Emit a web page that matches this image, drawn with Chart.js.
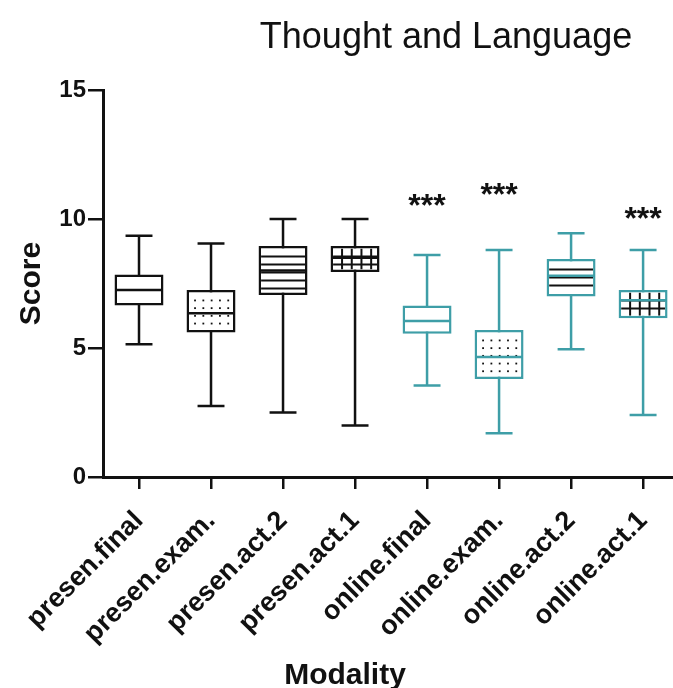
<!DOCTYPE html>
<html>
<head>
<meta charset="utf-8">
<script src="https://cdn.jsdelivr.net/npm/chart.js@4.4.1/dist/chart.umd.min.js"></script>
<style>
  html, body { margin: 0; padding: 0; background: #fff; overflow: hidden; }
  canvas { display: block; }
</style>
</head>
<body>
<canvas id="chart" width="682" height="688"></canvas>
<script>
// Box plot data
var categories = ['presen.final', 'presen.exam.', 'presen.act.2', 'presen.act.1',
                  'online.final', 'online.exam.', 'online.act.2', 'online.act.1'];
var mins    = [5.15, 2.75, 2.5,  2.0,  3.55, 1.7,  4.95, 2.4];
var q1s     = [6.65, 5.6,  7.05, 7.95, 5.55, 3.8,  7.0,  6.15];
var medians = [7.25, 6.35, 8.0,  8.5,  6.05, 4.65, 7.8,  6.85];
var q3s     = [7.85, 7.25, 8.95, 8.95, 6.65, 5.7,  8.45, 7.25];
var maxs    = [9.35, 9.05, 10.0, 10.0, 8.6,  8.8,  9.45, 8.8];
var fills   = ['plain', 'dots', 'hlines', 'grid', 'plain', 'dots', 'hlines', 'grid'];
var stars   = [null, null, null, null, 10.7, 11.1, null, 10.2];
var yTicks  = [0, 5, 10, 15];

var BLACK = '#111';
var TEAL = '#3e9ea7';
var FONT = '"Liberation Sans", Arial, Helvetica, sans-serif';
Chart.defaults.font.family = FONT;

var boxColors = categories.map(function (c) { return c.indexOf('online') === 0 ? TEAL : BLACK; });

function drawFill(ctx, kind, l, t, r, b) {
  ctx.fillStyle = BLACK;
  ctx.strokeStyle = BLACK;
  ctx.lineWidth = 2;
  var x, y;
  if (kind === 'dots') {
    for (y = t + 8; y < b - 2; y += 7.7) {
      for (x = l + 6; x < r - 2; x += 8.3) {
        ctx.fillRect(x - 0.9, y - 0.9, 1.8, 1.8);
      }
    }
  } else if (kind === 'hlines' || kind === 'grid') {
    ctx.beginPath();
    for (y = t + 8; y < b - 3; y += 8) {
      ctx.moveTo(l, y); ctx.lineTo(r, y);
    }
    if (kind === 'grid') {
      for (x = l + 9; x < r - 2; x += 9.7) {
        ctx.moveTo(x, t); ctx.lineTo(x, b);
      }
    }
    ctx.stroke();
  }
}

var boxPlot = {
  id: 'boxPlot',
  beforeDatasetsDraw: function (chart) {
    var ctx = chart.ctx, ys = chart.scales.y;
    var bars = chart.getDatasetMeta(0).data;
    ctx.save();
    ctx.lineWidth = 2.5;
    bars.forEach(function (bar, i) {
      var cap = bar.width * 0.55 / 2;
      var top = ys.getPixelForValue(maxs[i]), bot = ys.getPixelForValue(mins[i]);
      ctx.strokeStyle = boxColors[i];
      ctx.beginPath();
      ctx.moveTo(bar.x, top); ctx.lineTo(bar.x, bot);
      ctx.moveTo(bar.x - cap, top); ctx.lineTo(bar.x + cap, top);
      ctx.moveTo(bar.x - cap, bot); ctx.lineTo(bar.x + cap, bot);
      ctx.stroke();
    });
    ctx.restore();
  },
  afterDatasetsDraw: function (chart) {
    var ctx = chart.ctx, ys = chart.scales.y;
    var bars = chart.getDatasetMeta(0).data;
    var bw = 2.5;
    bars.forEach(function (bar, i) {
      var l = bar.x - bar.width / 2, r = bar.x + bar.width / 2;
      var t = Math.min(bar.y, bar.base), b = Math.max(bar.y, bar.base);
      ctx.save();
      ctx.beginPath();
      ctx.rect(l + bw, t + bw, r - l - 2 * bw, b - t - 2 * bw);
      ctx.clip();
      drawFill(ctx, fills[i], l + bw, t + bw, r - bw, b - bw);
      ctx.restore();
      var m = ys.getPixelForValue(medians[i]);
      ctx.save();
      ctx.strokeStyle = boxColors[i];
      ctx.lineWidth = 2.5;
      ctx.beginPath();
      ctx.moveTo(l + 1, m); ctx.lineTo(r - 1, m);
      ctx.stroke();
      ctx.restore();
    });
  },
  afterDraw: function (chart) {
    var ctx = chart.ctx, ys = chart.scales.y;
    var bars = chart.getDatasetMeta(0).data;
    ctx.save();
    ctx.fillStyle = BLACK;
    ctx.textAlign = 'center';
    ctx.textBaseline = 'middle';
    ctx.font = 'bold 32px ' + FONT;
    bars.forEach(function (bar, i) {
      if (stars[i] === null) return;
      ctx.fillText('***', bar.x, ys.getPixelForValue(stars[i]) + 6);
    });
    ctx.textBaseline = 'alphabetic';
    ctx.font = '36px ' + FONT;
    ctx.fillText('Thought and Language', 446, 48);
    ctx.font = 'bold 30px ' + FONT;
    ctx.fillText('Modality', 345, 684);
    ctx.restore();
  }
};

new Chart(document.getElementById('chart'), {
  type: 'bar',
  data: {
    labels: categories,
    datasets: [{
      data: categories.map(function (c, i) { return [q1s[i], q3s[i]]; }),
      backgroundColor: '#ffffff',
      borderColor: boxColors,
      borderWidth: 2.5,
      borderSkipped: false,
      barPercentage: 0.68,
      categoryPercentage: 1
    }]
  },
  options: {
    responsive: false,
    animation: false,
    devicePixelRatio: 1,
    layout: { padding: { top: 90, left: 0, right: 0, bottom: 0 } },
    plugins: { legend: { display: false }, tooltip: { enabled: false }, title: { display: false } },
    scales: {
      x: {
        offset: true,
        grid: { offset: false, drawOnChartArea: false, drawTicks: true, tickLength: 12, color: BLACK, lineWidth: 2.5 },
        border: { color: BLACK, width: 3 },
        ticks: { color: BLACK, font: { size: 27, weight: 'bold' }, maxRotation: 45, minRotation: 45, autoSkip: false, padding: 16 },
        afterFit: function (s) { s.height = 211; }
      },
      y: {
        min: 0, max: 15,
        afterBuildTicks: function (s) { s.ticks = yTicks.map(function (v) { return { value: v }; }); },
        grid: { drawOnChartArea: false, drawTicks: true, tickLength: 15, color: BLACK, lineWidth: 2.5 },
        border: { color: BLACK, width: 3 },
        ticks: { color: BLACK, font: { size: 24, weight: 'bold' }, padding: 2 },
        title: { display: true, text: 'Score', color: BLACK, font: { size: 30, weight: 'bold' }, padding: { top: 14, bottom: 0 } },
        afterFit: function (s) { s.width = 103; }
      }
    }
  },
  plugins: [boxPlot]
});
</script>
</body>
</html>
